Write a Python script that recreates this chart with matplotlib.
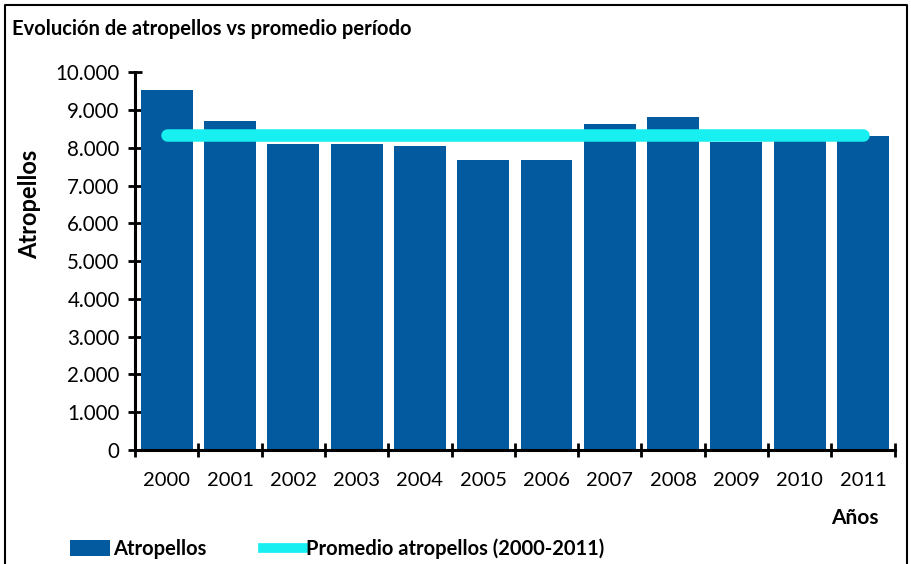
import matplotlib.pyplot as plt
import numpy as np
from matplotlib.lines import Line2D
from matplotlib.patches import Patch
from matplotlib.ticker import FuncFormatter

# values
years = ["2000", "2001", "2002", "2003", "2004", "2005",
         "2006", "2007", "2008", "2009", "2010", "2011"]
atropellos = [9520, 8710, 8090, 8090, 8050, 7670,
              7670, 8640, 8820, 8160, 8180, 8310]
promedio = [8330] * len(years)

BAR_COLOR = "#035a9e"
LINE_COLOR = "#17eff0"

plt.rcParams["font.family"] = ["Lato", "DejaVu Sans"]

fig = plt.figure(figsize=(9.12, 5.64), dpi=100)
ax = fig.add_axes([0.148, 0.202, 0.833, 0.670])

x = np.arange(len(years))
ax.bar(x, atropellos, width=0.82, color=BAR_COLOR, zorder=2)
ax.plot(x, promedio, color=LINE_COLOR, lw=9, solid_capstyle="round", zorder=3)

ax.set_xlim(-0.5, len(years) - 0.5)
ax.set_ylim(0, 10000)
ax.set_yticks(np.arange(0, 10001, 1000))
ax.yaxis.set_major_formatter(FuncFormatter(lambda v, _: f"{int(v):,}".replace(",", ".")))
ax.set_xticks(x)
ax.set_xticklabels(years, fontsize=14.5)
ax.set_xticks(np.arange(-0.5, len(years)), minor=True)
ax.tick_params(axis="x", which="major", length=0, pad=16)
ax.tick_params(axis="x", which="minor", direction="inout", length=10, width=2)
ax.tick_params(axis="y", direction="inout", length=10, width=2, labelsize=14.8, pad=6)

for side in ("top", "right"):
    ax.spines[side].set_visible(False)
for side in ("left", "bottom"):
    ax.spines[side].set_linewidth(2.2)

fig.text(0.013, 0.948, "Evolución de atropellos vs promedio período",
         fontsize=14.5, fontweight="bold", ha="left", va="center")
fig.text(0.033, 0.638, "Atropellos", rotation=90, fontsize=17,
         fontweight="bold", ha="center", va="center")
fig.text(0.963, 0.082, "Años", fontsize=15, fontweight="bold",
         ha="right", va="center")

handles = [
    Patch(facecolor=BAR_COLOR, edgecolor="none", label="Atropellos"),
    Line2D([0], [0], color=LINE_COLOR, lw=7, label="Promedio atropellos (2000-2011)"),
]
fig.legend(handles=handles, loc="center left", bbox_to_anchor=(0.057, 0.027),
           ncol=2, frameon=False, handlelength=2.0, handleheight=0.8,
           handletextpad=0.15, columnspacing=2.8,
           prop={"weight": "bold", "size": 14.5})

# outer frame (left, top, right)
fig.add_artist(Line2D([0.006, 0.006, 0.994, 0.994], [0.0, 0.992, 0.992, 0.0],
                      transform=fig.transFigure, color="black", lw=1.5))

fig.savefig("out.png", dpi=100)
